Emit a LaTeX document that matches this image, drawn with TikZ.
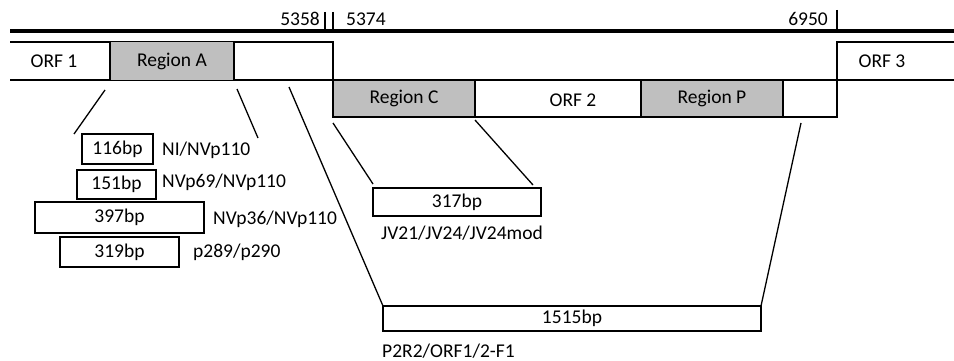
\documentclass[tikz,border=0pt]{standalone}
\usepackage{fontspec}
\setmainfont{Carlito}
\definecolor{regiongray}{RGB}{191,191,191}
\begin{document}
\begin{tikzpicture}[x=1pt,y=-1pt,
  thin line/.style={line width=1.3pt},
  genome/.style={line width=3.5pt},
  region/.style={draw, thin line, fill=regiongray, inner sep=0pt, outer sep=0pt, font=\fontsize{19.5}{22}\selectfont},
  ampbox/.style={draw, thin line, fill=white, inner sep=0pt, outer sep=0pt, font=\fontsize{19.5}{22}\selectfont},
  lbl/.style={inner sep=0pt, font=\fontsize{19.5}{22}\selectfont},
]
\useasboundingbox (0,0) rectangle (954,361);
% genome line and ticks
\draw[genome] (10,31) -- (954,31);
\coordinate (t1a) at (325,12); \coordinate (t1b) at (325,33);
\coordinate (t2a) at (333,12); \coordinate (t2b) at (333,33);
\coordinate (t3a) at (837,10); \coordinate (t3b) at (837,31);
\draw[thin line] (t1a) -- (t1b);
\draw[thin line] (t2a) -- (t2b);
\draw[thin line] (t3a) -- (t3b);
\node[lbl, anchor=east] (n5358) at (320,19) {5358};
\node[lbl, anchor=west] (n5374) at (346,19) {5374};
\node[lbl, anchor=east] (n6950) at (828,19) {6950};
% ORF frames
\draw[thin line] (10,42) -- (333,42) -- (333,117) -- (837,117) -- (837,42) -- (954,42);
\draw[thin line] (10,80) -- (954,80);
% regions
\node[region, minimum width=124pt, minimum height=39pt] (rA) at (172,61) {Region A};
\node[region, minimum width=142pt, minimum height=37pt] (rC) at (404,98.5) {Region C};
\node[region, minimum width=142pt, minimum height=37pt] (rP) at (712,98.5) {Region P};
\node[lbl] (orf1) at (54,61) {ORF 1};
\node[lbl] (orf2) at (573,100) {ORF 2};
\node[lbl] (orf3) at (882,61) {ORF 3};
% amplicon boxes
\node[ampbox, minimum width=71pt, minimum height=30pt] (b116) at (117.5,149) {116bp};
\node[ampbox, minimum width=79pt, minimum height=29pt] (b151) at (116.5,184.5) {151bp};
\node[ampbox, minimum width=169pt, minimum height=31pt] (b397) at (119.5,217.5) {397bp};
\node[ampbox, minimum width=119pt, minimum height=30pt] (b319) at (119.5,252) {319bp};
\node[ampbox, minimum width=168pt, minimum height=28pt] (b317) at (457,202) {317bp};
\node[ampbox, minimum width=378pt, minimum height=25pt] (b1515) at (572,318.5) {1515bp};
% primer labels
\node[lbl, anchor=west] (p116) at (162,150) {NI/NVp110};
\node[lbl, anchor=west] (p151) at (162,182) {NVp69/NVp110};
\node[lbl, anchor=west] (p397) at (213,219) {NVp36/NVp110};
\node[lbl, anchor=west] (p319) at (193,252) {p289/p290};
\node[lbl] (p317) at (462,233) {JV21/JV24/JV24mod};
\node[lbl, anchor=west] (p1515) at (382,351) {P2R2/ORF1/2-F1};
% connectors
\coordinate (aL1) at (105,90); \coordinate (aL2) at (74,134);
\coordinate (aR1) at (237,89); \coordinate (aR2) at (258,138);
\coordinate (bL1) at (289,87);
\coordinate (cL1) at (333,123); \coordinate (cL2) at (373,184);
\coordinate (cR1) at (475,120); \coordinate (cR2) at (533,185);
\coordinate (pR1) at (801,123);
\draw[thin line] (aL1) -- (aL2);
\draw[thin line] (aR1) -- (aR2);
\draw[thin line] (bL1) -- (b1515.north west);
\draw[thin line] (cL1) -- (cL2);
\draw[thin line] (cR1) -- (cR2);
\draw[thin line] (pR1) -- (b1515.north east);
\end{tikzpicture}
\end{document}
